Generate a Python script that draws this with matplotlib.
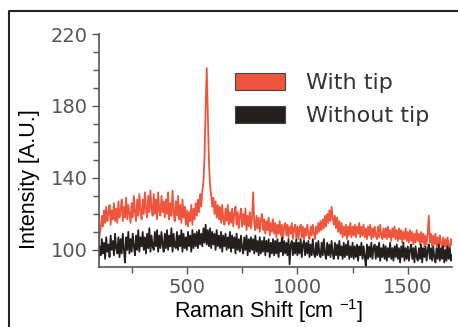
import numpy as np
import matplotlib
matplotlib.use("Agg")
import matplotlib.pyplot as plt
from matplotlib.patches import Patch
from matplotlib.lines import Line2D

# ---- data ----
raman_shift = list(range(100, 1701, 5))

with_tip = [
    101, 108, 112, 119, 113, 122, 115, 124, 116, 121,
    125, 114, 122, 117, 126, 116, 123, 115, 127, 118,
    122, 128, 116, 124, 118, 129, 117, 125, 120, 115,
    126, 118, 130, 121, 116, 128, 119, 131, 122, 117,
    128, 120, 132, 122, 118, 130, 121, 133, 123, 119,
    131, 120, 128, 117, 132, 122, 119, 130, 121, 127,
    118, 128, 120, 132, 117, 126, 119, 133, 121, 116,
    127, 119, 130, 117, 125, 115, 128, 118, 124, 114,
    122, 113, 121, 116, 125, 114, 123, 117, 126, 119,
    128, 121, 131, 124, 133, 138, 152, 180, 201, 175,
    148, 136, 130, 124, 129, 120, 127, 118, 125, 117,
    124, 115, 125, 117, 114, 123, 116, 125, 114, 121,
    115, 123, 113, 120, 124, 114, 121, 112, 119, 123,
    113, 120, 114, 123, 111, 119, 113, 121, 112, 118,
    132, 115, 111, 119, 112, 118, 110, 117, 120, 111,
    117, 109, 116, 111, 118, 108, 115, 110, 117, 109,
    115, 107, 114, 109, 116, 108, 114, 106, 113, 115,
    108, 114, 107, 113, 109, 115, 106, 112, 114, 107,
    113, 106, 112, 114, 107, 113, 105, 112, 108, 114,
    109, 106, 113, 108, 114, 109, 106, 113, 109, 115,
    110, 116, 111, 117, 112, 119, 113, 120, 115, 122,
    116, 124, 118, 114, 119, 112, 118, 110, 116, 109,
    115, 107, 113, 108, 114, 106, 113, 108, 115, 107,
    113, 108, 114, 107, 113, 109, 115, 107, 113, 108,
    114, 107, 112, 106, 113, 108, 114, 106, 112, 107,
    113, 108, 106, 113, 107, 114, 108, 106, 112, 107,
    112, 106, 113, 107, 111, 105, 112, 107, 113, 106,
    111, 105, 112, 106, 111, 104, 110, 106, 112, 105,
    110, 104, 111, 105, 110, 103, 109, 104, 111, 105,
    109, 103, 110, 104, 109, 102, 108, 103, 109, 119,
    104, 109, 102, 108, 103, 109, 102, 107, 101, 108,
    104, 101, 107, 102, 106, 100, 107, 102, 101, 106,
    103,
]

without_tip = [
    94, 102, 97, 106, 98, 104, 95, 107, 99, 103,
    96, 108, 100, 105, 97, 109, 101, 98, 107, 96,
    106, 98, 109, 100, 93, 107, 100, 110, 98, 106,
    99, 109, 102, 97, 108, 100, 111, 99, 107, 102,
    110, 100, 107, 98, 109, 101, 112, 99, 108, 102,
    100, 110, 102, 111, 99, 108, 101, 110, 103, 99,
    109, 101, 111, 100, 108, 102, 112, 99, 109, 102,
    101, 110, 100, 108, 102, 111, 99, 109, 101, 107,
    100, 110, 102, 108, 99, 111, 101, 109, 102, 110,
    101, 111, 103, 109, 102, 112, 104, 114, 103, 111,
    102, 112, 101, 110, 103, 109, 100, 111, 102, 108,
    101, 110, 99, 108, 102, 109, 100, 107, 101, 110,
    99, 108, 101, 107, 98, 109, 100, 106, 99, 108,
    101, 98, 107, 100, 108, 97, 106, 99, 107, 100,
    106, 98, 108, 99, 105, 97, 107, 98, 105, 99,
    107, 97, 105, 99, 106, 96, 104, 98, 106, 97,
    105, 98, 106, 96, 104, 99, 107, 97, 105, 98,
    104, 97, 106, 92, 103, 105, 97, 104, 98, 106,
    97, 104, 98, 106, 96, 103, 105, 97, 104, 98,
    105, 96, 103, 97, 106, 98, 96, 104, 97, 105,
    98, 96, 104, 97, 106, 98, 95, 104, 97, 103,
    96, 105, 98, 95, 104, 97, 103, 95, 105, 97,
    102, 95, 104, 96, 103, 97, 105, 95, 102, 96,
    104, 95, 102, 96, 103, 94, 102, 97, 104, 95,
    102, 96, 91, 103, 95, 102, 96, 104, 95, 101,
    103, 95, 102, 96, 104, 94, 101, 96, 103, 95,
    102, 94, 101, 96, 104, 95, 101, 94, 102, 96,
    103, 95, 101, 93, 102, 96, 104, 94, 101, 95,
    102, 94, 100, 103, 95, 101, 93, 102, 96, 94,
    101, 95, 103, 93, 101, 96, 102, 94, 100, 103,
    95, 101, 94, 102, 96, 93, 101, 95, 103, 94,
    101, 95, 102, 93, 100, 94, 102, 95, 101, 94,
    97,
]

series_labels = ["With tip", "Without tip"]
x_ticks = [500, 1000, 1500]
y_ticks = [100, 140, 180, 220]

# ---- style ----
red = "#EF553C"
black = "#231F1F"
gray = "#555555"

plt.rcParams["font.family"] = ["DejaVu Sans"]
plt.rcParams["mathtext.default"] = "regular"

W, H = 458, 327
fig = plt.figure(figsize=(W / 100, H / 100), dpi=100)
ax = fig.add_axes([98.5 / W, 1 - 267 / H, (452 - 98.5) / W, (267 - 34) / H])

ax.plot(raman_shift, with_tip, color=red, lw=1.3)
ax.plot(raman_shift, without_tip, color=black, lw=1.3)

ax.set_xlim(100, 1700)
ax.set_ylim(90.5, 220)
ax.set_xticks(x_ticks)
ax.set_yticks(y_ticks)
ax.set_xticks(range(250, 1700, 500), minor=True)
ax.set_yticks([v for v in range(100, 220, 10) if v not in y_ticks], minor=True)

for s in ["top", "right"]:
    ax.spines[s].set_visible(False)
for s in ["left", "bottom"]:
    ax.spines[s].set_color(gray)
    ax.spines[s].set_linewidth(1.2)

ax.tick_params(which="both", direction="out", color=gray, width=1.0)
ax.tick_params(which="major", length=5, labelsize=14, labelcolor=gray, pad=3)
ax.tick_params(which="minor", length=4)

lab_font = ["Liberation Sans", "DejaVu Sans"]
fig.text(30 / W, 1 - 179 / H, "Intensity [A.U.]", rotation=90,
         ha="center", va="center", fontsize=15.5, color="black", family=lab_font)
fig.text(269 / W, 1 - 311 / H, "Raman Shift [cm $^{-1}$]",
         ha="center", va="center", fontsize=15.5, color="black", family=lab_font)

handles = [Patch(facecolor=red, edgecolor="#444444", linewidth=0.8),
           Patch(facecolor=black, edgecolor="#444444", linewidth=0.8)]
leg = fig.legend(handles, series_labels, loc="upper left",
                 bbox_to_anchor=(235 / W, 1 - 73 / H), frameon=False,
                 prop={"family": "DejaVu Sans", "size": 16},
                 handlelength=2.25, handleheight=0.77,
                 handletextpad=0.95, labelspacing=0.6, borderpad=0,
                 borderaxespad=0)
for t in leg.get_texts():
    t.set_color("#333333")

# outer frame (left and top edges visible)
fig.add_artist(Line2D([9 / W, 9 / W, 1.0], [0.0, 1 - 11 / H, 1 - 11 / H],
                      transform=fig.transFigure, color="#222222", lw=1.5))

fig.savefig("out.png", dpi=100)
